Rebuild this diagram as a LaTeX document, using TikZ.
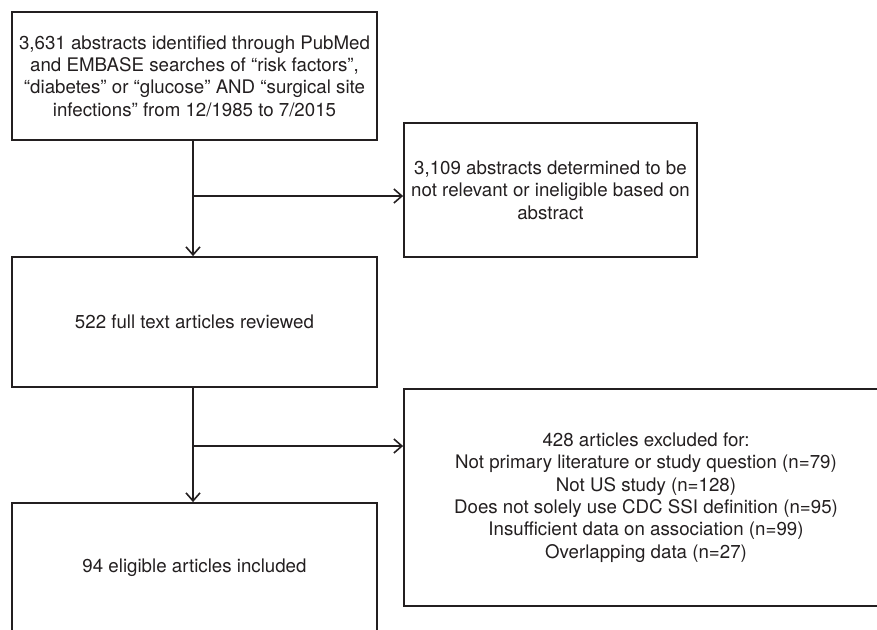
\documentclass[tikz,border=0pt]{standalone}
\usepackage{fontspec}
\setmainfont{TeX Gyre Heros}
\usetikzlibrary{arrows.meta}
\definecolor{inkgray}{HTML}{231F20}
\begin{document}
\begin{tikzpicture}[x=1pt,y=-1pt,
  flowbox/.style={shape=rectangle, draw=inkgray, line width=1.8pt, align=center, text=inkgray, inner sep=0pt, font={\fontsize{18.7}{22.4}\selectfont}},
  flowarrow/.style={draw=inkgray, line width=1.6pt, -{Straight Barb[length=8pt,width=14pt,line width=1.6pt]}}]
\useasboundingbox (0,0) rectangle (877,629);

\node[flowbox, minimum width=365pt, minimum height=128pt] (search) at (194.5,76) {3,631 abstracts identified through PubMed\\and EMBASE searches of “risk factors”,\\“diabetes” or “glucose” AND “surgical site\\infections” from 12/1985 to 7/2015};
\node[flowbox, minimum width=293pt, minimum height=134pt] (abstractout) at (550.5,190) {3,109 abstracts determined to be\\not relevant or ineligible based on\\abstract};
\node[flowbox, minimum width=365pt, minimum height=130pt] (fulltext) at (194.5,322) {522 full text articles reviewed};
\node[flowbox, minimum width=484pt, minimum height=217pt] (articleout) at (646,497.5) {428 articles excluded for:\\Not primary literature or study question (n=79)\\Not US study (n=128)\\Does not solely use CDC SSI definition (n=95)\\Insufficient data on association (n=99)\\Overlapping data (n=27)};
\node[flowbox, minimum width=365pt, minimum height=130pt] (included) at (194.5,568) {94 eligible articles included};

\coordinate (split1) at (193,196);
\coordinate (split2) at (193,446);

\draw[flowarrow] (search.south -| split1) -- (fulltext.north -| split1);
\draw[flowarrow] (split1) -- (split1 -| abstractout.west);
\draw[flowarrow] (fulltext.south -| split2) -- (included.north -| split2);
\draw[flowarrow] (split2) -- (split2 -| articleout.west);
\end{tikzpicture}
\end{document}
